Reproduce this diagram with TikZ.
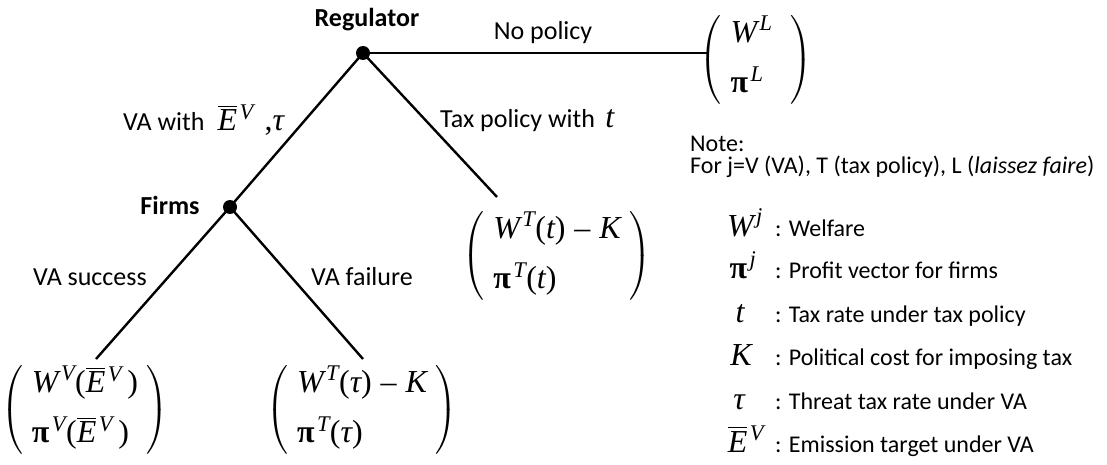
\RequirePackage{fix-cm}
\documentclass[tikz,border=0pt]{standalone}
\usepackage{amsmath}
\usepackage{fontspec}
\setmainfont{Carlito}
\newfontfamily\tms{Liberation Serif}
\newcommand{\vi}[1]{\text{\tms\itshape #1}}
\newcommand{\vu}[1]{\text{\tms #1}}
\newcommand{\bpi}{\text{\tms\bfseries π}}
\newcommand{\Ebar}{\smash[t]{\overline{\vi{E}}}\vphantom{\vi{E}}}
\newcommand{\lp}{\vu{(}}
\newcommand{\rp}{\vu{)}}
\newcommand{\sps}[1]{^{\mkern2mu\vi{#1}}}
\newcommand{\mathbig}{\fontsize{32}{38}\selectfont}
\newcommand{\pvec}[2]{$\left(\begin{array}{@{\;}l@{\;}} #1 \\[12pt] #2 \end{array}\right)$}
\begin{document}
\begin{tikzpicture}[x=1pt,y=-1pt,
  branch/.style={line width=2.4pt},
  dotnode/.style={circle,fill=black,inner sep=0pt,minimum size=14pt},
  lbl/.style={font=\fontsize{26}{31}\selectfont,inner sep=0pt},
  blbl/.style={font=\fontsize{26}{31}\selectfont\bfseries,inner sep=0pt},
  notetxt/.style={font=\fontsize{24}{29}\selectfont,inner sep=0pt,anchor=base west},
  vec/.style={font=\mathbig,inner sep=0pt},
  sym/.style={font=\mathbig,inner sep=0pt,anchor=base}
]
\useasboundingbox (0,0) rectangle (1107,465);
% decision nodes
\node[dotnode] (reg) at (363,53) {};
\node[blbl] (reglbl) at (367,20) {Regulator};
\node[dotnode] (firms) at (230,207) {};
\node[blbl] (firmslbl) at (170,205) {Firms};
% end coordinates
\coordinate (eL) at (708,53);
\coordinate (eT) at (497,197);
\coordinate (eV) at (96,359);
\coordinate (eF) at (363,359);
% branches
\draw[branch] (reg.center) -- (eL);
\draw[branch] (reg.center) -- (eT);
\draw[branch] (reg.center) -- (firms.center);
\draw[branch] (firms.center) -- (eV);
\draw[branch] (firms.center) -- (eF);
% branch labels
\node[lbl] (lnp) at (543,33) {No policy};
\node[lbl,anchor=base west] (ltax) at (440,128) {Tax policy with \,{\mathbig$\vi{t}$}};
\node[lbl,anchor=base west] (lva) at (123,131) {VA with \;{\mathbig$\Ebar\sps{V}\,\,\vu{,}\vi{τ}$}};
\node[lbl] (lsucc) at (90,277) {VA success};
\node[lbl,anchor=west] (lfail) at (311,277) {VA failure};
% payoff vectors
\node[vec] (vL) at (756,60) {\pvec{\vi{W}\sps{L}\;}{\bpi\sps{L}}};
\node[vec] (vT) at (557,256) {\pvec{\vi{W}\sps{T}\lp\vi{t}\rp\;\vu{–}\;\vi{K}}{\bpi\sps{T}\lp\vi{t}\rp}};
\node[vec] (vV) at (85,410) {\pvec{\vi{W}\sps{V}\lp\Ebar\sps{V}\,\rp}{\bpi\sps{V}\lp\Ebar\sps{V}\,\rp}};
\node[vec] (vF) at (362,410) {\pvec{\vi{W}\sps{T}\lp\vi{τ}\rp\;\vu{–}\;\vi{K}}{\bpi\sps{T}\lp\vi{τ}\rp}};
% note
\node[notetxt] (note1) at (690,152) {Note:};
\node[notetxt] (note2) at (690,174) {For j=V (VA), T (tax policy), L (\textit{laissez faire})};
% legend
\node[sym] (s1) at (745,236) {$\vi{W}\sps{j}$};
\node[notetxt] (t1) at (775,236) {: Welfare};
\node[sym] (s2) at (743,278) {$\bpi\sps{j}$};
\node[notetxt] (t2) at (775,278) {: Profit vector for firms};
\node[sym] (s3) at (740,322) {$\vi{t}$};
\node[notetxt] (t3) at (775,322) {: Tax rate under tax policy};
\node[sym] (s4) at (741,365) {$\vi{K}$};
\node[notetxt] (t4) at (775,365) {: Political cost for imposing tax};
\node[sym] (s5) at (739,409) {$\vi{τ}$};
\node[notetxt] (t5) at (775,409) {: Threat tax rate under VA};
\node[sym] (s6) at (746,452) {$\Ebar\sps{V}$};
\node[notetxt] (t6) at (775,452) {: Emission target under VA};
\end{tikzpicture}
\end{document}
